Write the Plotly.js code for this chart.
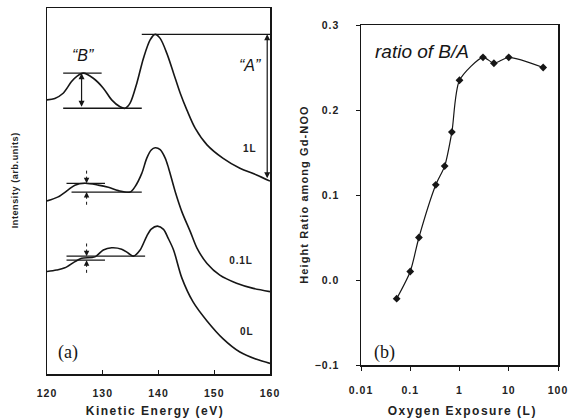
<!DOCTYPE html>
<html>
<head>
<meta charset="utf-8">
<script src="https://cdn.plot.ly/plotly-3.0.1.min.js"></script>
<style>
  html, body { margin: 0; padding: 0; background: #fff; }
  #chart { width: 575px; height: 420px; }
  .xtick text, .x2tick text, .ytick text, .y2tick text { letter-spacing: 1px; }
</style>
</head>
<body>
<div id="chart"></div>
<script>
// ---- Panel (a): Gd NOO Auger spectra (kinetic energy in eV, intensity in arb. units)
const energy1L = [120.0, 121.4, 122.9, 124.4, 125.4, 126.5, 128.3, 130.1, 131.6, 133.1, 134.0, 134.9,
  136.1, 137.3, 138.5, 139.4, 140.3, 141.5, 142.7, 143.9, 145.1, 146.6, 148.7, 151.6, 154.6, 157.6, 160.0];
const intensity1L = [74.9, 75.3, 76.7, 79.9, 81.4, 82.2, 80.8, 78.1, 74.9, 73.0, 72.6, 74.0,
  79.4, 86.3, 91.3, 92.8, 91.7, 87.6, 82.2, 76.7, 72.1, 67.1, 62.6, 58.9, 56.2, 54.4, 52.7];

const energy01L = [120.0, 122.0, 123.8, 125.0, 126.8, 129.2, 131.0, 132.8, 134.9, 135.8, 137.0, 137.9,
  138.7, 139.4, 140.3, 141.2, 141.8, 143.0, 144.2, 145.7, 146.9, 148.7, 151.0, 154.0, 157.0, 160.0];
const intensity01L = [47.3, 48.4, 50.3, 51.6, 52.1, 51.6, 51.0, 50.1, 49.7, 51.2, 54.8, 59.0,
  61.2, 61.8, 61.3, 59.0, 56.3, 49.8, 44.3, 38.9, 34.4, 30.2, 27.0, 24.8, 23.4, 22.5];

const energy0L = [120.0, 121.7, 123.2, 125.0, 126.2, 128.6, 130.1, 131.6, 133.4, 134.6, 135.5, 136.7,
  137.9, 138.7, 139.8, 140.9, 141.7, 142.7, 144.2, 146.2, 148.7, 151.6, 154.6, 157.6, 160.0];
const intensity0L = [28.0, 28.4, 29.0, 30.7, 31.6, 32.0, 33.9, 34.5, 34.1, 33.0, 32.2, 33.9,
  37.7, 39.6, 40.4, 39.5, 37.2, 33.9, 26.2, 19.7, 14.5, 9.6, 6.0, 4.0, 2.9];

const energyTicks = [120, 130, 140, 150, 160];

// Read-off levels of the "B" feature on the two lower spectra: [upper level, lower level]
const levels01L = [52.1, 49.7];
const levels0L = [32.2, 31.1];

// ---- Panel (b): B/A height ratio vs oxygen exposure (L)
const exposure = [0.053, 0.1, 0.15, 0.33, 0.5, 0.7, 1.0, 3, 5, 10, 50];
const ratioBA = [-0.022, 0.010, 0.050, 0.112, 0.134, 0.174, 0.235, 0.262, 0.255, 0.262, 0.250];
const exposureTicks = [0.01, 0.1, 1, 10, 100];
const exposureTickText = ['0.01', '0.1', '1', '10', '100'];
const ratioTicks = [-0.1, 0.0, 0.1, 0.2, 0.3];

const INK = '#161616';

function extremum(xs, ys, lo, hi, pick) {
  let best = null;
  xs.forEach((x, i) => {
    if (x >= lo && x <= hi && (best === null || pick(ys[i], best))) best = ys[i];
  });
  return best;
}

const peakA = Math.max(...intensity1L);
const peakB = extremum(energy1L, intensity1L, 122, 130, (a, b) => a > b);
const baseB = extremum(energy1L, intensity1L, 130, 137, (a, b) => a < b);
const tail1L = intensity1L[intensity1L.length - 1];

const spectrumLine = { color: INK, width: 1.6, shape: 'spline', smoothing: 0.85 };

const traces = [
  { x: energy1L, y: intensity1L, mode: 'lines', line: spectrumLine, xaxis: 'x', yaxis: 'y', hoverinfo: 'skip' },
  { x: energy01L, y: intensity01L, mode: 'lines', line: spectrumLine, xaxis: 'x', yaxis: 'y', hoverinfo: 'skip' },
  { x: energy0L, y: intensity0L, mode: 'lines', line: spectrumLine, xaxis: 'x', yaxis: 'y', hoverinfo: 'skip' },
  { x: exposure, y: ratioBA, mode: 'lines+markers', xaxis: 'x2', yaxis: 'y2',
    line: { color: INK, width: 1.2, shape: 'spline', smoothing: 0.7 },
    marker: { symbol: 'diamond', size: 6, color: INK }, hoverinfo: 'skip' }
];

function hline(x0, x1, y, w) {
  return { type: 'line', xref: 'x', yref: 'y', x0: x0, x1: x1, y0: y, y1: y,
           line: { color: INK, width: w || 1.4 } };
}
function stem(x, y0, y1) {
  return { type: 'line', xref: 'x', yref: 'y', x0: x, x1: x, y0: y0, y1: y1,
           line: { color: INK, width: 1, dash: 'dot' } };
}

const shapes = [
  hline(137.0, 160.0, peakA),
  hline(122.9, 129.8, peakB),
  hline(122.9, 137.0, baseB),
  hline(123.5, 130.4, levels01L[0], 1.2),
  hline(124.4, 137.0, levels01L[1], 1.2),
  hline(123.5, 137.6, levels0L[0], 1.2),
  hline(123.5, 130.4, levels0L[1], 1.2),
  stem(127.1, levels01L[0] + 1.0, levels01L[0] + 4.2),
  stem(127.1, levels01L[1] - 1.0, levels01L[1] - 4.2),
  stem(127.1, levels0L[0] + 1.0, levels0L[0] + 4.2),
  stem(127.1, levels0L[1] - 1.0, levels0L[1] - 4.2)
];

function arrow(x, yFrom, yTo, sides) {
  return { xref: 'x', yref: 'y', axref: 'x', ayref: 'y', x: x, y: yTo, ax: x, ay: yFrom,
           text: '', showarrow: true, arrowhead: 2, arrowsize: 1, arrowwidth: 1.2,
           arrowcolor: INK, arrowside: sides || 'end', standoff: 0, startstandoff: 0 };
}
function tinyArrow(x, y, down) {
  return { xref: 'x', yref: 'y', x: x, y: y, ax: 0, ay: down ? -5 : 5, text: '',
           showarrow: true, arrowhead: 2, arrowsize: 1, arrowwidth: 1.1, arrowcolor: INK, standoff: 0 };
}

const SANS = 'Liberation Sans, Arial, sans-serif';
const SERIF = 'Liberation Serif, Times New Roman, serif';
const tickFont = { family: SANS, size: 10.5, color: '#222', weight: 700 };
const labelFont = { family: SANS, size: 10, color: '#222', weight: 700 };
const titleFont = { family: SANS, size: 12, color: '#222', weight: 700 };

function label(xref, yref, x, y, text, font, extra) {
  return Object.assign({ xref: xref, yref: yref, x: x, y: y, text: text, showarrow: false,
                         xanchor: 'center', yanchor: 'middle', font: font }, extra || {});
}

const annotations = [
  // axis titles
  label('paper', 'paper', 155 / 575, 1 - 411 / 420, 'Kinetic Energy (eV)', titleFont),
  label('paper', 'paper', 462 / 575, 1 - 411 / 420, 'Oxygen Exposure (L)', titleFont),
  label('paper', 'paper', 15 / 575, 1 - 180 / 420, 'Intensity (arb.units)',
        Object.assign({}, titleFont, { size: 9 }), { textangle: -90 }),
  label('paper', 'paper', 304 / 575, 1 - 195 / 420, 'Height Ratio among Gd-NOO',
        Object.assign({}, titleFont, { size: 11 }), { textangle: -90 }),
  // spectrum labels
  label('x', 'y', 156.4, 61.5, '1L', labelFont),
  label('x', 'y', 154.8, 30.9, '0.1L', labelFont),
  label('x', 'y', 155.9, 11.5, '0L', labelFont),
  label('x', 'y', 126.5, 86.9, '\u201cB\u201d', { family: SANS, size: 16, style: 'italic', color: INK }),
  label('x', 'y', 156.4, 84.4, '\u201cA\u201d', { family: SANS, size: 16, style: 'italic', color: INK }),
  label('x', 'y', 123.8, 6.0, '(a)', { family: SERIF, size: 18, color: INK }),
  label('x2', 'y2', -1.513, -0.0847, '(b)', { family: SERIF, size: 18, color: INK }),
  label('x2', 'y2', -0.761, 0.2694, 'ratio of B/A', { family: SANS, size: 19, style: 'italic', color: INK }),
  // height markers
  arrow(126.2, baseB, peakB, 'end+start'),
  arrow(159.5, tail1L + 0.4, peakA, 'end+start'),
  tinyArrow(127.1, levels01L[0], true),
  tinyArrow(127.1, levels01L[1], false),
  tinyArrow(127.1, levels0L[0], true),
  tinyArrow(127.1, levels0L[1], false)
];

const axisLine = { showline: true, linecolor: INK, linewidth: 1.5, mirror: true, zeroline: false,
                   showgrid: false };

const layout = {
  width: 575, height: 420,
  margin: { l: 0, r: 0, t: 0, b: 0 },
  paper_bgcolor: '#fff', plot_bgcolor: '#fff',
  showlegend: false,
  xaxis: Object.assign({}, axisLine, {
    domain: [47 / 575, 270 / 575], range: [120, 160], tickvals: energyTicks,
    ticks: 'inside', ticklen: 4, tickcolor: INK, tickfont: tickFont, ticklabelstandoff: 9
  }),
  yaxis: Object.assign({}, axisLine, {
    domain: [1 - 374 / 420, 1 - 8 / 420], range: [0, 100], showticklabels: false, ticks: ''
  }),
  xaxis2: Object.assign({}, axisLine, {
    domain: [361 / 575, 558 / 575], type: 'log', range: [-2, 2], anchor: 'y2',
    tickvals: exposureTicks, ticktext: exposureTickText,
    ticks: 'outside', ticklen: 4, tickcolor: INK, tickfont: tickFont, ticklabelstandoff: 11
  }),
  yaxis2: Object.assign({}, axisLine, {
    domain: [1 - 365 / 420, 1 - 25 / 420], range: [-0.1, 0.3], anchor: 'x2',
    tickvals: ratioTicks, tickformat: '.1f',
    ticks: 'outside', ticklen: 4, tickcolor: INK, tickfont: tickFont, ticklabelstandoff: 14
  }),
  shapes: shapes,
  annotations: annotations
};

Plotly.newPlot('chart', traces, layout, { staticPlot: true, displayModeBar: false }).then(() => {
  // spaced-out lettering for the axis titles and spectrum labels
  const spacing = {
    'Kinetic Energy (eV)': '1.5px', 'Oxygen Exposure (L)': '1.5px',
    'Intensity (arb.units)': '0.6px', 'Height Ratio among Gd-NOO': '1.1px',
    '1L': '0.9px', '0.1L': '0.9px', '0L': '0.9px'
  };
  document.querySelectorAll('.annotation-text').forEach(t => {
    const s = spacing[t.textContent];
    if (s) t.style.letterSpacing = s;
  });
});
</script>
</body>
</html>
